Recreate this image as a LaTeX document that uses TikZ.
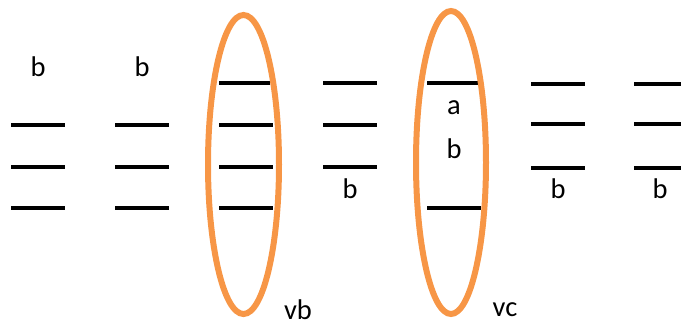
\documentclass[tikz,border=0pt]{standalone}
\usepackage{fontspec}
\setmainfont{Carlito}
\definecolor{accorange}{HTML}{F79646}
\begin{document}
\begin{tikzpicture}[x=1pt,y=-1pt,
  lev/.style={line width=4pt},
  ring/.style={draw=accorange,line width=6pt},
  lab/.style={font=\fontsize{28.5}{31}\selectfont,inner sep=0pt}]
\useasboundingbox (0,0) rectangle (681,327);
% column 1
\foreach \y/\n in {125/a,167/b,208/c} {\draw[lev] (11,\y) coordinate (c1\n l) -- (65,\y) coordinate (c1\n r);}
\node[lab] (b1) at (38,67) {b};
% column 2
\foreach \y/\n in {125/a,167/b,208/c} {\draw[lev] (115,\y) coordinate (c2\n l) -- (169,\y) coordinate (c2\n r);}
\node[lab] (b2) at (142,67) {b};
% column 3
\draw[lev] (219,83) coordinate (c3al) -- (270,83) coordinate (c3ar);
\foreach \y/\n in {125/b,167/c,208/d} {\draw[lev] (219,\y) coordinate (c3\n l) -- (273,\y) coordinate (c3\n r);}
\draw[ring] (243.5,164.5) ellipse [x radius=35.5, y radius=149.5];
\node[lab] (vb) at (298,310) {vb};
% column 4
\foreach \y/\n in {83/a,125/b,167/c} {\draw[lev] (323,\y) coordinate (c4\n l) -- (377,\y) coordinate (c4\n r);}
\node[lab] (b4) at (350,189) {b};
% column 5
\draw[lev] (427,83) coordinate (c5al) -- (478,83) coordinate (c5ar);
\draw[lev] (427,208) coordinate (c5bl) -- (481,208) coordinate (c5br);
\draw[ring] (451,162.5) ellipse [x radius=35, y radius=151.5];
\node[lab] (a5) at (454,108) {a};
\node[lab] (b5) at (454,149) {b};
\node[lab] (vc) at (505,310) {vc};
% column 6
\foreach \y/\n in {84/a,124/b,168/c} {\draw[lev] (531,\y) coordinate (c6\n l) -- (585,\y) coordinate (c6\n r);}
\node[lab] (b6) at (558,189) {b};
% column 7
\foreach \y/\n in {84/a,124/b,168/c} {\draw[lev] (634,\y) coordinate (c7\n l) -- (681,\y) coordinate (c7\n r);}
\node[lab] (b7) at (660,189) {b};
\end{tikzpicture}
\end{document}
